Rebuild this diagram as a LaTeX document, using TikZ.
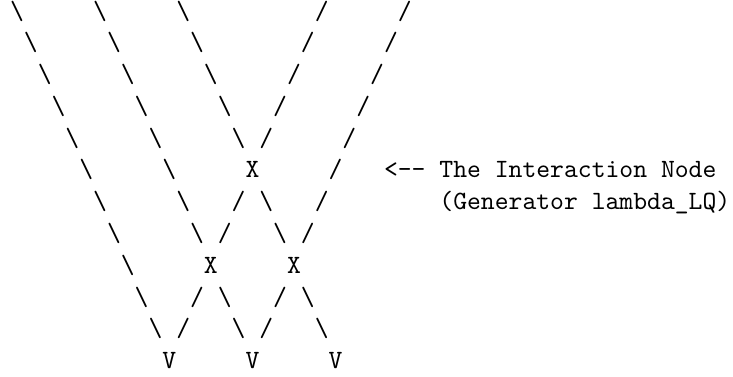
\documentclass[tikz,border=0pt]{standalone}
\usepackage{fontspec}
\begin{document}
\begin{tikzpicture}[
  glyph/.style={font=\ttfamily, inner sep=0pt, outer sep=0pt, anchor=base},
  caption/.style={font=\ttfamily, inner sep=0pt, outer sep=0pt, anchor=base west}
]
% character grid: column c has its centre at 1.19pt + 5.25pt*c,
% row r has its baseline at -(7.2pt + 12.05pt*(r-1))
\useasboundingbox (0,0) rectangle (277.85pt,-142.9pt);

% falling strands
\foreach \c/\r in {1/1,7/1,13/1, 2/2,8/2,14/2, 3/3,9/3,15/3, 4/4,10/4,16/4,
                   5/5,11/5,17/5, 6/6,12/6, 7/7,13/7,19/7, 8/8,14/8,20/8,
                   9/9, 10/10,16/10,22/10, 11/11,17/11,23/11}
  \node[glyph] (bs-\r-\c) at ({1.19pt+5.25pt*\c},{-7.2pt-12.05pt*(\r-1)}) {\textbackslash};

% rising strands
\foreach \c/\r in {23/1,29/1, 22/2,28/2, 21/3,27/3, 20/4,26/4, 19/5,25/5,
                   24/6, 17/7,23/7, 16/8,22/8, 14/10,20/10, 13/11,19/11}
  \node[glyph] (fs-\r-\c) at ({1.19pt+5.25pt*\c},{-7.2pt-12.05pt*(\r-1)}) {/};

% crossings
\foreach \c/\r in {18/6, 15/9, 21/9}
  \node[glyph] (x-\r-\c) at ({1.19pt+5.25pt*\c},{-7.2pt-12.05pt*(\r-1)}) {X};

% endpoints
\foreach \c/\r in {12/12, 18/12, 24/12}
  \node[glyph] (v-\r-\c) at ({1.19pt+5.25pt*\c},{-7.2pt-12.05pt*(\r-1)}) {V};

% annotation of the top crossing
\node[caption] (note) at ({-1.43pt+5.25pt*28},{-7.2pt-12.05pt*5}) {<-- The Interaction Node};
\node[caption] (gen) at ({-1.43pt+5.25pt*32},{-7.2pt-12.05pt*6}) {(Generator lambda\_LQ)};
\end{tikzpicture}
\end{document}
